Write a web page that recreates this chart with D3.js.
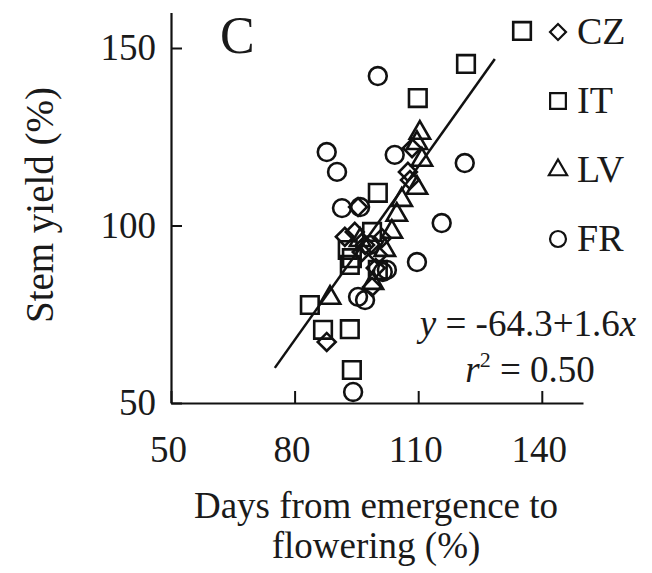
<!DOCTYPE html>
<html>
<head>
<meta charset="utf-8">
<script src="https://cdn.jsdelivr.net/npm/d3@7"></script>
<style>
  body { margin: 0; background: #fff; }
  svg { display: block; font-family: "Liberation Serif", "DejaVu Serif", serif; }
</style>
</head>
<body>
<div id="chart"></div>
<script>
// days from emergence to flowering (%) vs stem yield (%), by country
const czX = [87.8, 92.2, 94.6, 95.4, 107.5, 108, 98.8, 97.1, 100.2, 101.2, 108.5, 99.7, 96.3]
const czY = [67.2, 96.8, 98.2, 105.2, 115.1, 112.8, 82.7, 94.5, 91.7, 96.5, 121.8, 88, 92.5]
const itX = [135.2, 121.6, 109.9, 100.2, 92.9, 93.4, 93.9, 100.2, 83.7, 86.9, 93.4, 93.9, 98.8]
const itY = [154.8, 145.5, 135.9, 109.2, 93.1, 88.9, 90.8, 87.5, 77.6, 70.6, 70.8, 59.3, 98.2]
const lvX = [110.4, 109.7, 110.9, 109.7, 104.8, 103.6, 88.6, 99, 95.9, 101.9, 106]
const lvY = [126.1, 123.2, 118.5, 110.6, 103, 98.2, 79.6, 83.8, 95.9, 93.1, 107.2]
const frX = [100.2, 87.8, 90.3, 104.3, 121.3, 91.5, 95.9, 115.7, 109.7, 102.4, 95.4, 97.1, 94.2, 98.3, 101.4]
const frY = [142.1, 120.7, 115.1, 119.9, 117.6, 104.9, 105.2, 100.7, 89.7, 87.5, 79.9, 79, 53.1, 94.5, 86.9]

const countries = ['CZ', 'IT', 'LV', 'FR']
const xTicks = [50, 80, 110, 140]
const yTicks = [50, 100, 150]
// fitted line as drawn (ends)
const regX = [75.2, 128.6]
const regY = [59.9, 146.9]

const width = 652, height = 573
const svg = d3.select('#chart').append('svg').attr('width', width).attr('height', height)

const x = d3.scaleLinear().domain([50, 150]).range([171, 583])
const y = d3.scaleLinear().domain([50, 160]).range([403, 12.5])

const shapes = {
  CZ: { type: d3.symbolSquare, size: 160, rot: 45 },
  IT: { type: d3.symbolSquare, size: 310, rot: 0 },
  LV: { type: d3.symbolTriangle, size: 180, rot: 0 },
  FR: { type: d3.symbolCircle, size: 250, rot: 0 }
}

// axes, ticks pointing inward
const xAxis = svg.append('g')
  .attr('transform', `translate(0,${y(50)})`)
  .call(d3.axisBottom(x).tickValues(xTicks).tickSize(-12).tickSizeOuter(0).tickPadding(33))
const yAxis = svg.append('g')
  .attr('transform', `translate(${x(50)},0)`)
  .call(d3.axisLeft(y).tickValues(yTicks).tickSize(-11).tickSizeOuter(0).tickPadding(15))

;[xAxis, yAxis].forEach(ax => {
  ax.select('.domain').attr('stroke', '#111').attr('stroke-width', 2.2)
  ax.selectAll('.tick line').attr('stroke', '#111').attr('stroke-width', 2)
  ax.selectAll('.tick text').attr('font-size', 37).attr('fill', '#1a1a1a').attr('font-family', '"Liberation Serif", serif')
})
xAxis.selectAll('.tick text').attr('dx', '-3')

// regression line
svg.append('line')
  .attr('x1', x(regX[0])).attr('y1', y(regY[0]))
  .attr('x2', x(regX[1])).attr('y2', y(regY[1]))
  .attr('stroke', '#111').attr('stroke-width', 2.5)

const series = [
  { name: 'CZ', xs: czX, ys: czY },
  { name: 'IT', xs: itX, ys: itY },
  { name: 'LV', xs: lvX, ys: lvY },
  { name: 'FR', xs: frX, ys: frY }
]

series.forEach(s => {
  const sh = shapes[s.name]
  const pts = s.xs.map((v, i) => [v, s.ys[i]])
  svg.append('g').selectAll('path')
    .data(pts)
    .join('path')
    .attr('d', d3.symbol().type(sh.type).size(sh.size))
    .attr('transform', d => `translate(${x(d[0])},${y(d[1])}) rotate(${sh.rot})`)
    .attr('fill', 'none')
    .attr('stroke', '#111')
    .attr('stroke-width', 2.6)
})

// legend
const legend = svg.append('g').selectAll('g')
  .data(countries)
  .join('g')
  .attr('transform', (d, i) => `translate(558,${32 + i * 69})`)
legend.append('path')
  .attr('d', d => d3.symbol().type(shapes[d].type).size(shapes[d].size * 0.8)())
  .attr('transform', d => `rotate(${shapes[d].rot})`)
  .attr('fill', 'none').attr('stroke', '#111').attr('stroke-width', 2.2)
legend.append('text')
  .attr('x', 19).attr('y', 12)
  .attr('font-size', 38).attr('fill', '#1a1a1a')
  .text(d => d)

// panel letter
svg.append('text').attr('x', 220).attr('y', 53).attr('font-size', 52).attr('fill', '#1a1a1a').text('C')

// equation
const eq = svg.append('text').attr('x', 528).attr('y', 336).attr('text-anchor', 'middle')
  .attr('font-size', 37).attr('fill', '#1a1a1a')
eq.append('tspan').attr('font-style', 'italic').text('y')
eq.append('tspan').text(' = -64.3+1.6')
eq.append('tspan').attr('font-style', 'italic').text('x')

const r2 = svg.append('text').attr('x', 530).attr('y', 382).attr('text-anchor', 'middle')
  .attr('font-size', 37).attr('fill', '#1a1a1a')
r2.append('tspan').attr('font-style', 'italic').text('r')
r2.append('tspan').attr('font-size', 22).attr('dy', -15).text('2')
r2.append('tspan').attr('dy', 15).text(' = 0.50')

// axis titles
svg.append('text').attr('x', 376).attr('y', 518).attr('text-anchor', 'middle')
  .attr('font-size', 37).attr('fill', '#1a1a1a').text('Days from emergence to')
svg.append('text').attr('x', 376).attr('y', 558).attr('text-anchor', 'middle')
  .attr('font-size', 37).attr('fill', '#1a1a1a').text('flowering (%)')
svg.append('text')
  .attr('transform', 'translate(53,205) rotate(-90)')
  .attr('text-anchor', 'middle')
  .attr('font-size', 39).attr('fill', '#1a1a1a').text('Stem yield (%)')
</script>
</body>
</html>
